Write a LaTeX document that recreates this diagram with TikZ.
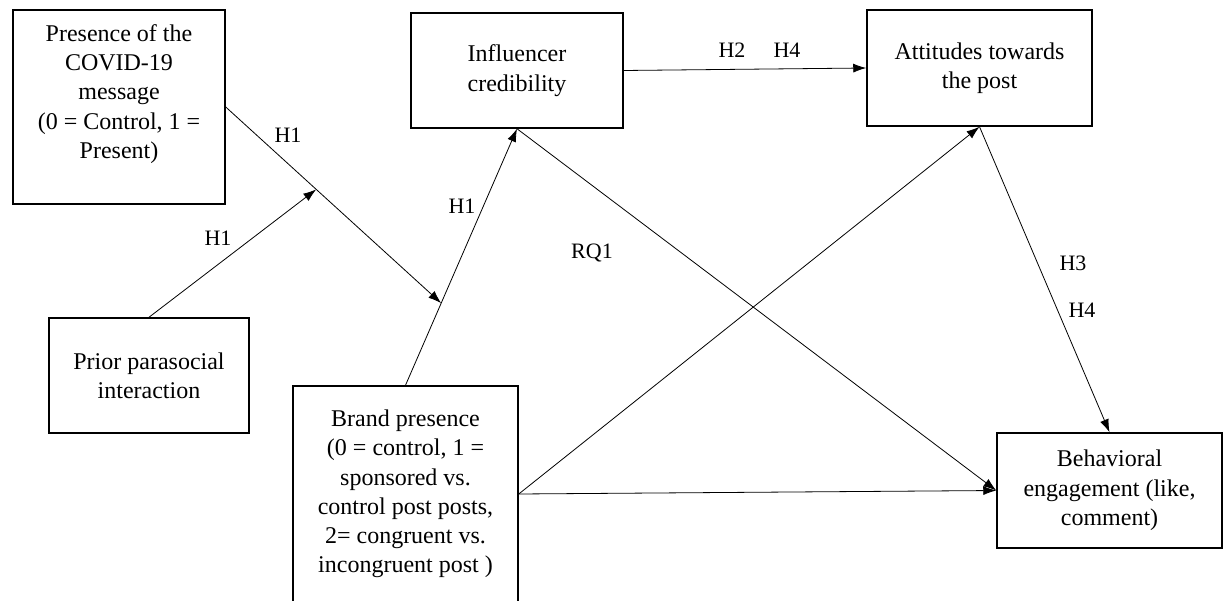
\documentclass[tikz,border=0pt]{standalone}
\usepackage{fontspec}
\setmainfont{Liberation Serif}
\usetikzlibrary{arrows.meta,calc}
\begin{document}
\begin{tikzpicture}[x=1pt,y=-1pt,
  box/.style={draw, line width=1.5pt, inner sep=0pt, align=center, font=\fontsize{24}{29.3}\selectfont},
  boxtext/.style={inner sep=0pt, align=center, font=\fontsize{24}{29.3}\selectfont},
  lbl/.style={font=\fontsize{22}{26}\selectfont, inner sep=0pt},
  arr/.style={-{Latex[length=13pt,width=9pt]}, line width=0.8pt}]
\useasboundingbox (0,0) rectangle (1223,601);
\clip (0,0) rectangle (1223,601);
% boxes
\node[box, minimum width=212pt, minimum height=194pt] (A) at (119,107) {};
\node[boxtext] (Atext) at (119,94) {Presence of the\\COVID-19\\message\\(0 = Control, 1 =\\Present)};
\node[box, minimum width=212pt, minimum height=115pt] (Infl) at (517,70.5) {Influencer\\credibility};
\node[box, minimum width=225pt, minimum height=116pt] (Att) at (979.5,68) {Attitudes towards\\the post};
\node[box, minimum width=200pt, minimum height=115pt] (Prior) at (149,375.5) {Prior parasocial\\interaction};
\node[box, minimum width=225pt, minimum height=216pt] (Brand) at (405.5,494) {Brand presence\\(0 = control, 1 =\\sponsored vs.\\control post posts,\\2= congruent vs.\\incongruent post )};
\node[box, minimum width=225pt, minimum height=115pt] (Beh) at (1109.5,490.5) {Behavioral\\engagement (like,\\comment)};
% connectors
\coordinate (m1) at ($(Brand.north)!0.32!(Infl.south)$);
\coordinate (m2) at ($(A.east)!0.42!(m1)$);
\draw[arr] (A.east) -- (m1);
\draw[arr] (Prior.north) -- (m2);
\draw[arr] (Brand.north) -- (Infl.south);
\draw[arr] (Infl.south) -- (Beh.west);
\draw[arr] (Infl.east) -- (Att.west);
\draw[arr] (Brand.east) -- (Att.south);
\draw[arr] (Brand.east) -- (Beh.west);
\draw[arr] (Att.south) -- (Beh.north);
% labels
\node[lbl] (l1) at (288,135) {H1};
\node[lbl] (l2) at (218,238) {H1};
\node[lbl] (l3) at (462,206) {H1};
\node[lbl] (l4) at (592,253) {RQ1};
\node[lbl] (l5) at (732,50) {H2};
\node[lbl] (l6) at (787,50) {H4};
\node[lbl] (l7) at (1073,263) {H3};
\node[lbl] (l8) at (1082,310) {H4};
\end{tikzpicture}
\end{document}
